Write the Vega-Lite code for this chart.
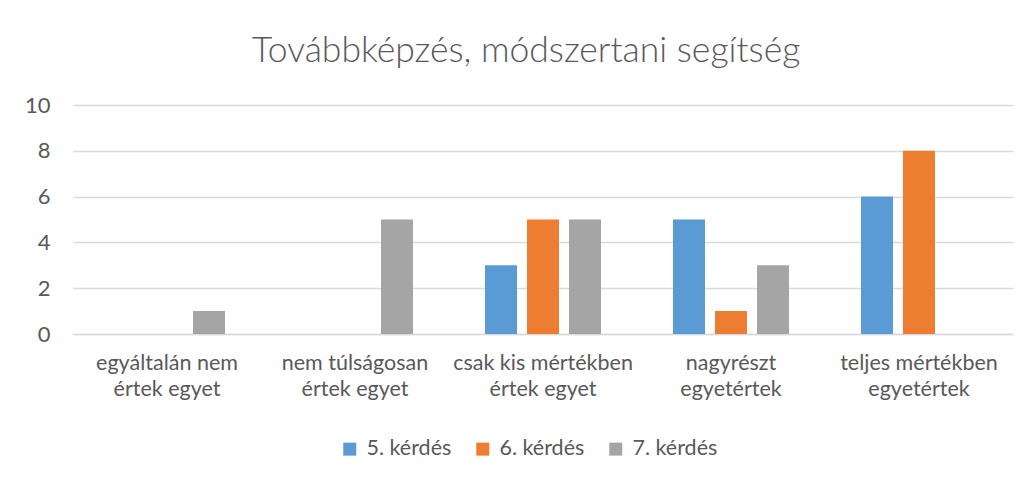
{
  "$schema": "https://vega.github.io/schema/vega-lite/v6.json",
  "width": 940,
  "height": 229,
  "autosize": {"type": "none"},
  "padding": {"left": 73, "top": 105, "right": 19, "bottom": 147},
  "background": "white",
  "title": {
    "text": "Továbbképzés, módszertani segítség",
    "font": "Lato",
    "fontWeight": 300,
    "fontSize": 35.5,
    "color": "#595959",
    "anchor": "middle",
    "offset": 25,
    "dx": -17
  },
  "data": {
    "values": [
      {"cat": "egyáltalán nem|értek egyet", "q": "5. kérdés", "v": 0},
      {"cat": "egyáltalán nem|értek egyet", "q": "6. kérdés", "v": 0},
      {"cat": "egyáltalán nem|értek egyet", "q": "7. kérdés", "v": 1},
      {"cat": "nem túlságosan|értek egyet", "q": "5. kérdés", "v": 0},
      {"cat": "nem túlságosan|értek egyet", "q": "6. kérdés", "v": 0},
      {"cat": "nem túlságosan|értek egyet", "q": "7. kérdés", "v": 5},
      {"cat": "csak kis mértékben|értek egyet", "q": "5. kérdés", "v": 3},
      {"cat": "csak kis mértékben|értek egyet", "q": "6. kérdés", "v": 5},
      {"cat": "csak kis mértékben|értek egyet", "q": "7. kérdés", "v": 5},
      {"cat": "nagyrészt|egyetértek", "q": "5. kérdés", "v": 5},
      {"cat": "nagyrészt|egyetértek", "q": "6. kérdés", "v": 1},
      {"cat": "nagyrészt|egyetértek", "q": "7. kérdés", "v": 3},
      {"cat": "teljes mértékben|egyetértek", "q": "5. kérdés", "v": 6},
      {"cat": "teljes mértékben|egyetértek", "q": "6. kérdés", "v": 8},
      {"cat": "teljes mértékben|egyetértek", "q": "7. kérdés", "v": 0}
    ]
  },
  "mark": {"type": "bar"},
  "encoding": {
    "x": {
      "field": "cat",
      "type": "nominal",
      "sort": null,
      "scale": {"paddingInner": 0, "paddingOuter": 0},
      "axis": {
        "title": null,
        "labelAngle": 0,
        "labelExpr": "split(datum.label, '|')",
        "labelFont": "Lato",
        "labelFontSize": 21.5,
        "labelColor": "#595959",
        "labelLineHeight": 26,
        "labelPadding": 18,
        "ticks": false,
        "domainColor": "#D9D9D9",
        "domainWidth": 1.5
      }
    },
    "xOffset": {
      "field": "q",
      "type": "nominal",
      "sort": ["5. kérdés", "6. kérdés", "7. kérdés"],
      "scale": {"paddingInner": 0.238, "paddingOuter": 0.857}
    },
    "y": {
      "field": "v",
      "type": "quantitative",
      "scale": {"domain": [0, 10], "nice": false},
      "axis": {
        "title": null,
        "values": [0, 2, 4, 6, 8, 10],
        "labelFont": "Lato",
        "labelFontSize": 22,
        "labelColor": "#595959",
        "labelPadding": 23,
        "ticks": false,
        "domain": false,
        "gridColor": "#D9D9D9",
        "gridWidth": 1.5
      }
    },
    "color": {
      "field": "q",
      "type": "nominal",
      "sort": ["5. kérdés", "6. kérdés", "7. kérdés"],
      "scale": {"range": ["#5B9BD5", "#ED7D31", "#A5A5A5"]},
      "legend": {
        "title": null,
        "orient": "none",
        "legendX": 266,
        "legendY": 333,
        "direction": "horizontal",
        "symbolType": "square",
        "symbolSize": 169,
        "symbolStrokeWidth": 0,
        "symbolOpacity": 1,
        "labelFont": "Lato",
        "labelFontSize": 21.5,
        "labelColor": "#595959",
        "labelOffset": 6,
        "columnPadding": 20
      }
    }
  },
  "config": {
    "view": {"stroke": null}
  }
}
